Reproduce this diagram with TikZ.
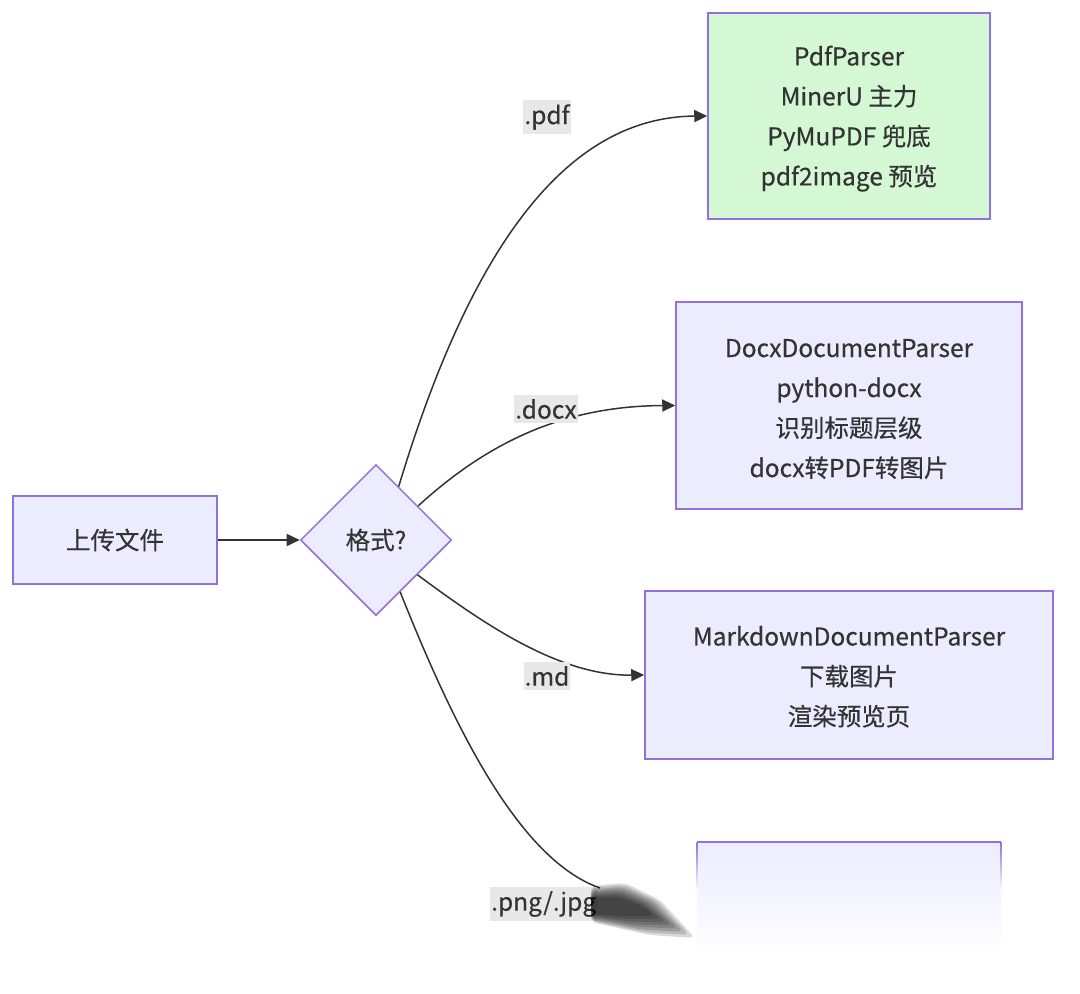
\documentclass[tikz,border=0pt]{standalone}
\usepackage{fontspec}
\setmainfont{Noto Sans CJK SC}[FakeBold=0.4]
\usetikzlibrary{shapes.geometric,arrows.meta,calc}
\definecolor{boxfill}{HTML}{ECECFF}
\definecolor{boxdraw}{HTML}{9370DB}
\definecolor{greenfill}{HTML}{D4F7D4}
\definecolor{txt}{HTML}{333333}
\definecolor{lblbg}{HTML}{E8E8E8}
\tikzset{
  box/.style={draw=boxdraw, fill=boxfill, line width=1.5pt, inner sep=0pt, align=center, text=txt},
  dec/.style={diamond, draw=boxdraw, fill=boxfill, line width=1.5pt, inner sep=0pt, minimum width=151pt, minimum height=151pt, text=txt},
  lbl/.style={fill=lblbg, inner xsep=1pt, inner ysep=4pt, text=txt},
  conn/.style={draw=txt, line width=1.5pt},
  arr/.style={conn, -{Triangle[length=13pt,width=12pt]}},
  smudge/.style={fill=black, fill opacity=0.15, draw=none, rounded corners=6pt},
}
\begin{document}
\begin{tikzpicture}[x=1pt, y=-1pt, font=\fontsize{24.5}{40}\selectfont]
\useasboundingbox (0,0) rectangle (1080,994);
\fill[white] (0,0) rectangle (1080,994);

\node[box, minimum width=204pt, minimum height=88pt] (up) at (115,540) {上传文件};
\node[dec] (fmt) at (376,540) {格式?};

\node[box, fill=greenfill, minimum width=282pt, minimum height=206pt] (pdf) at (849,116) {\rule{0pt}{25pt}PdfParser\\MinerU 主力\\PyMuPDF 兜底\\pdf2image 预览};
\node[box, minimum width=346pt, minimum height=207pt] (docx) at (849,405.5) {\rule{0pt}{25pt}DocxDocumentParser\\python-docx\\识别标题层级\\docx转PDF转图片};
\node[box, minimum width=408pt, minimum height=168pt] (md) at (849,675) {\rule{0pt}{23pt}MarkdownDocumentParser\\下载图片\\渲染预览页};

% faded last box
\coordinate (imgtl) at (697,842);
\coordinate (imgtr) at (1001,842);
\shade[top color=boxfill, bottom color=white] (697,843) rectangle (1001,960);
\shade[top color=boxdraw, bottom color=white] (696.25,842) rectangle (697.75,892);
\shade[top color=boxdraw, bottom color=white] (1000.25,842) rectangle (1001.75,892);
\draw[boxdraw, line width=1.5pt] (imgtl) -- (imgtr);

\draw[arr] (up) -- (fmt);

\draw[arr] (fmt.67.5) .. controls (470,250) and (565,117) .. (pdf.west);
\draw[arr] (fmt.39) .. controls (485,445) and (560,406) .. (docx.west);
\draw[arr] (fmt.-40) .. controls (485,625) and (560,676) .. (md.west);
\coordinate (pngend) at (600,888);
\draw[conn] (fmt.-65) .. controls (455,730) and (520,860) .. (pngend);

\node[lbl] (lpdf) at (547,117) {.pdf};
\node[lbl] (ldocx) at (546,409) {.docx};
\node[lbl] (lmd) at (547,676) {.md};
\node[lbl, anchor=west] (lpng) at (490,904) {.png/.jpg};

% smudge artifact (blurred streak)
\foreach \t in {0,0.143,0.286,0.429,0.571,0.714,0.857,1} {
  \fill[smudge] (591,{886+12*\t}) -- ({625-7*\t},{883+14*\t}) -- ({660-20*\t},{900+5*\t})
    -- ({695-40*\t},{938-22*\t}) -- ({650-30*\t},{935-19*\t}) -- (591,{922-8*\t}) -- cycle;
}
\end{tikzpicture}
\end{document}
